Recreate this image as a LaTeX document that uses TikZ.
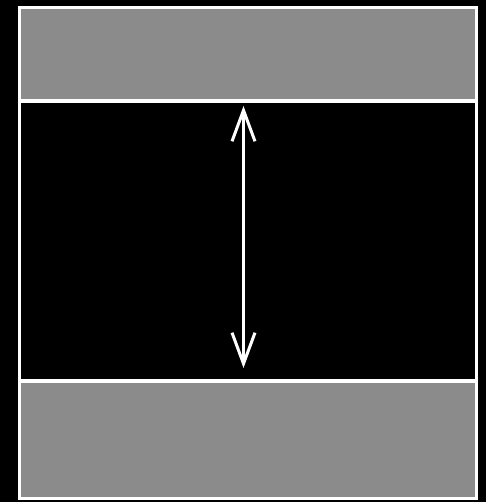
\documentclass[tikz,border=0pt]{standalone}
\usepackage{xcolor}
\usepackage{tikz}
\usetikzlibrary{arrows.meta}

\definecolor{bandgray}{RGB}{139,139,139}
\tikzset{
  band/.style={draw=white, line width=0.35mm, fill=bandgray},
  gap/.style={draw=white, line width=0.35mm, fill=black},
  span/.style={white, line width=0.3mm, {Straight Barb[length=3.1mm, width=2.3mm]}-{Straight Barb[length=3.1mm, width=2.3mm]}}
}

\begin{document}
\begin{tikzpicture}[x=0.1mm, y=-0.1mm]
% black background fixes the frame
\fill[black] (0,0) rectangle (486,502);
\useasboundingbox (0,0) rectangle (486,502);
% middle black region between the two bands
\draw[gap] (19.5,101) rectangle (476.5,381);
% upper gray band
\draw[band] (19.5,7.5) rectangle (476.5,101);
% lower gray band
\draw[band] (19.5,381) rectangle (476.5,498.5);
% ends of the span arrow
\coordinate (spantop) at (243.5,106);
\coordinate (spanbot) at (243.5,368);
\draw[span] (spantop) -- (spanbot);
\end{tikzpicture}
\end{document}
